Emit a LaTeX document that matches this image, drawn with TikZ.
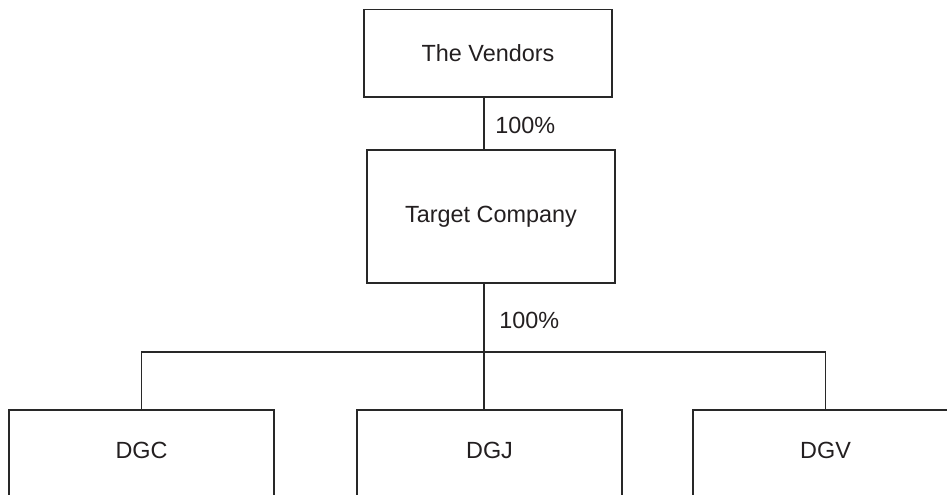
\documentclass[tikz,border=0pt]{standalone}
\usepackage{fontspec}
\setmainfont{Liberation Sans}
\usetikzlibrary{positioning, calc}
\definecolor{linecolor}{RGB}{40, 40, 40}
\definecolor{textcolor}{RGB}{35, 31, 32}

\begin{document}
\begin{tikzpicture}[x=0.5pt, y=-0.5pt,
    entity/.style={draw=linecolor, line width=0.55pt, rectangle, inner sep=0pt,
        font=\fontsize{11.7}{14}\selectfont\color{textcolor}},
    subsidiary/.style={entity, minimum width=132.5pt, minimum height=45pt, text depth=5pt},
    share/.style={font=\fontsize{11.7}{14}\selectfont\color{textcolor}, anchor=west, inner sep=0pt},
    link/.style={draw=linecolor, line width=0.55pt}]
        \useasboundingbox (0,0) rectangle (947,494);
        \clip (0,0) rectangle (947,494);
        % owners and target
        \node[entity, minimum width=124pt, minimum height=43.75pt] (vendors) at (488, 53.25) {The Vendors};
        \node[entity, minimum width=124pt, minimum height=66.5pt] (target) at (491, 216.5) {Target Company};
        % subsidiaries (cut off at the page edge)
        \node[subsidiary] (dgc) at (141.5, 455) {DGC};
        \node[subsidiary] (dgj) at (489.5, 455) {DGJ};
        \node[subsidiary] (dgv) at (825.5, 455) {DGV};
        \coordinate (trunk) at (484, 0);
        \coordinate (bus) at (0, 352);
        \draw[link] (vendors.south -| trunk) -- (target.north -| trunk);
        \node[share] (pctvendors) at (495, 125) {100\%};
        \draw[link] (target.south -| trunk) -- (dgj.north -| trunk);
        \node[share] (pcttarget) at (499, 320) {100\%};
        \draw[link] (dgc.north) -- (dgc.north |- bus) -- (dgv.north |- bus) -- (dgv.north);
      \end{tikzpicture}
\end{document}
